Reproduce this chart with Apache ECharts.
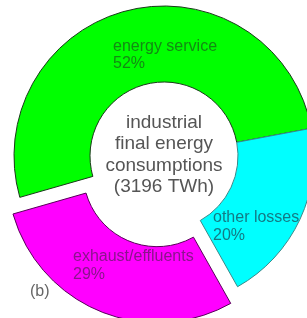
<!DOCTYPE html>
<html>
<head>
<meta charset="utf-8">
<script src="https://cdn.jsdelivr.net/npm/echarts@6/dist/echarts.min.js"></script>
<style>
html,body{margin:0;padding:0;background:#fff;}
#c{width:307px;height:318px;}
</style>
</head>
<body>
<div id="c"></div>
<script>
var categories = ['energy service', 'other losses', 'exhaust/effluents'];
var values = [52, 20, 29];
var exploded = [false, false, true];
var centerLines = ['industrial', 'final energy', 'consumptions', '(3196 TWh)'];
var panelTag = '(b)';

var fills = ['#00ff00', '#00ffff', '#ff00ff'];
var borders = ['#1a3a1a', '#3a8a8a', '#5a005a'];
var textColors = ['#138a13', '#137a84', '#8a148c'];
var labelPos = [[113, 37.5], [213, 209], [73, 248]];
var FONT = '"Liberation Sans", Arial, sans-serif';

var CENTER = [164, 156];
var START = 196;
var OFFSET = 18;

// offset of each exploded slice along its mid-angle, computed from the data
var total = values.reduce(function (a, b) { return a + b; }, 0);
var acc = 0;
var shifts = values.map(function (v) {
  var a0 = START - acc / total * 360;
  acc += v;
  var a1 = START - acc / total * 360;
  var mid = (a0 + a1) / 2 * Math.PI / 180;
  return [Math.cos(mid) * OFFSET, -Math.sin(mid) * OFFSET];
});

function makeSeries(explodedGroup) {
  var sIdx = -1;
  var data = categories.map(function (name, i) {
    var visible = exploded[i] === explodedGroup;
    if (visible && explodedGroup) sIdx = i;
    return {
      name: name,
      value: values[i],
      itemStyle: visible
        ? {color: fills[i], borderColor: borders[i], borderWidth: 1}
        : {color: 'rgba(0,0,0,0)', borderWidth: 0},
      label: visible ? {show: true, color: textColors[i]} : {show: false}
    };
  });
  var shift = sIdx >= 0 ? shifts[sIdx] : [0, 0];
  return {
    type: 'pie',
    center: [CENTER[0] + shift[0], CENTER[1] + shift[1]],
    radius: [74, 150],
    startAngle: START,
    clockwise: true,
    silent: true,
    avoidLabelOverlap: false,
    emphasis: {disabled: true},
    data: data,
    label: {
      position: 'inside',
      fontFamily: FONT,
      fontSize: 16,
      lineHeight: 17.5,
      align: 'left',
      formatter: function (p) { return p.name + '\n' + p.value + '%'; }
    },
    labelLine: {show: false},
    labelLayout: function (p) {
      var pos = labelPos[p.dataIndex];
      return {x: pos[0], y: pos[1], align: 'left', verticalAlign: 'top'};
    }
  };
}

var chart = echarts.init(document.getElementById('c'), null, {renderer: 'canvas'});
chart.setOption({
  animation: false,
  backgroundColor: '#ffffff',
  series: [makeSeries(false), makeSeries(true)],
  graphic: [
    {
      type: 'text',
      x: 164, y: 155,
      style: {
        text: centerLines.join('\n'),
        align: 'center',
        verticalAlign: 'middle',
        fontFamily: FONT,
        fontSize: 19,
        lineHeight: 21.5,
        fill: '#555555'
      }
    },
    {
      type: 'text',
      x: 30, y: 292,
      style: {
        text: panelTag,
        align: 'left',
        verticalAlign: 'middle',
        fontFamily: FONT,
        fontSize: 16,
        fill: '#666666'
      }
    }
  ]
});
</script>
</body>
</html>
